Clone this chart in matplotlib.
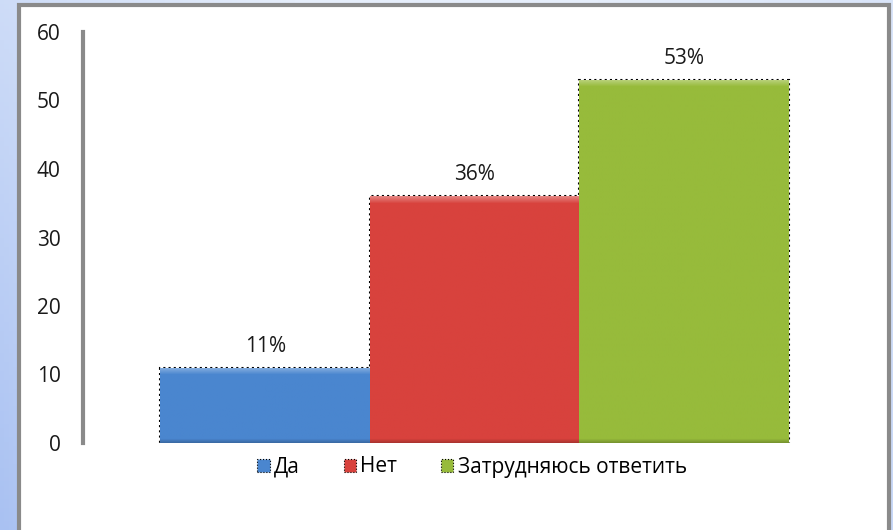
import numpy as np
import matplotlib.pyplot as plt
from matplotlib.patches import Rectangle, Patch
from matplotlib.colors import LinearSegmentedColormap, to_rgb

# chart data
categories = ['Да', 'Нет', 'Затрудняюсь ответить']
values = [11, 36, 53]
labels = ['11%', '36%', '53%']
colors = ['#4a86cf', '#d8423d', '#97bb3b']
yticks = [0, 10, 20, 30, 40, 50, 60]

plt.rcParams['font.family'] = ['Open Sans', 'DejaVu Sans']

fig = plt.figure(figsize=(8.93, 5.30), dpi=100)

# blue slide background
bg = fig.add_axes([0, 0, 1, 1], zorder=-10)
gx = np.linspace(0, 1, 200)
gy = np.linspace(0, 1, 120)
X, Y = np.meshgrid(gx, gy)
grad = (np.clip(1 - X * 3, 0, 1) + np.clip(X * 3 - 2, 0, 1) * 0.5) * (0.4 + 0.6 * Y)
bg_cmap = LinearSegmentedColormap.from_list('bg', ['#e6eefb', '#a9c1f2'])
bg.imshow(grad, cmap=bg_cmap, aspect='auto', extent=[0, 1, 0, 1], origin='upper')
bg.axis('off')

# white chart box with gray border
fig.patches.append(Rectangle((19 / 893, -0.02), (889 - 19) / 893, 1 - 5 / 530 + 0.02,
                             transform=fig.transFigure, facecolor='white',
                             edgecolor='#8a8a8a', linewidth=3, zorder=-5))

ax = fig.add_axes([83 / 893, 1 - 443 / 530, (866 - 83) / 893, (443 - 32) / 530])
ax.set_facecolor('none')
ax.set_xlim(-0.87, 2.87)
ax.set_ylim(0, 60)

x = np.arange(len(values))
bars = ax.bar(x, values, width=1.0, color=colors, edgecolor='black',
              linestyle=(0, (1, 1.5)), linewidth=1.5, zorder=2)

# bevel: light band at the top, darker band at the bottom (in pixels)
px_per_unit = (443 - 32) / 60
for b, c in zip(bars, colors):
    x0, w, h = b.get_x(), b.get_width(), b.get_height()
    rows = max(int(h * px_per_unit), 10)
    base = np.array(to_rgb(c))
    img = np.tile(base, (rows, 1))
    for i in range(7):
        img[i] = base + (1 - base) * 0.35 * (1 - i / 7)
    for i in range(4):
        img[rows - 1 - i] = base * (0.8 + 0.05 * i)
    im = ax.imshow(img[:, None, :], aspect='auto', extent=[x0, x0 + w, 0, h],
                   zorder=2.5, interpolation='bilinear')
    im.set_clip_path(b)

for xi, v, lab in zip(x, values, labels):
    ax.annotate(lab, (xi, v), xytext=(0, 8), textcoords='offset points',
                ha='center', va='bottom', fontsize=15, color='#1a1a1a')

ax.set_xlim(-0.87, 2.87)
ax.set_ylim(0, 60)
ax.set_yticks(yticks)
ax.tick_params(axis='y', length=0, labelsize=15, pad=16, labelcolor='#1a1a1a')
ax.set_xticks([])
for s in ['top', 'right', 'bottom']:
    ax.spines[s].set_visible(False)
ax.spines['left'].set_color('#8a8a8a')
ax.spines['left'].set_linewidth(3)

handles = [Patch(facecolor=c, edgecolor='black', linestyle=':', linewidth=0.8) for c in colors]
fig.legend(handles, categories, loc='center', bbox_to_anchor=(472 / 893, 1 - 467 / 530),
           ncol=3, frameon=False, fontsize=15, handlelength=0.6, handleheight=0.6,
           handletextpad=0.2, columnspacing=2.1)

fig.savefig('out.png', dpi=100)
